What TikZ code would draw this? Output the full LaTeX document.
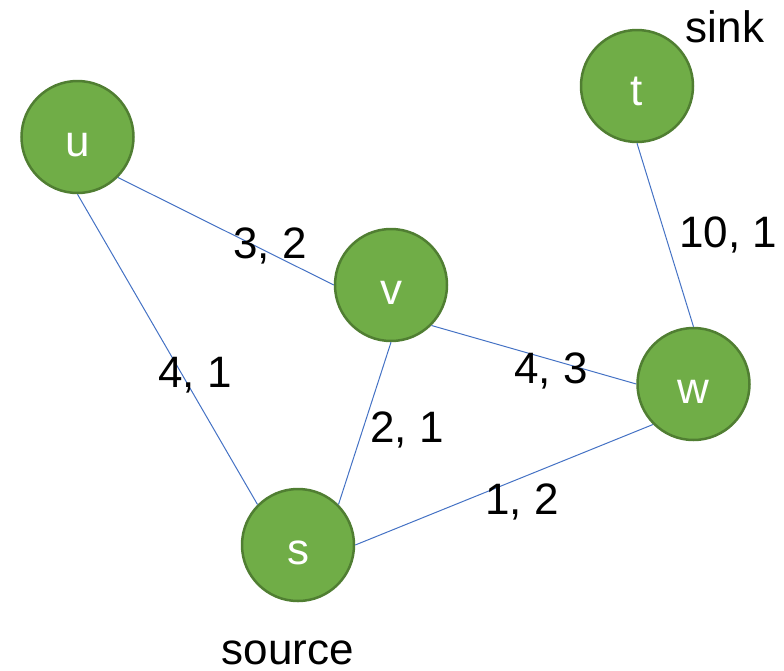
\documentclass[tikz,border=0pt]{standalone}
\usepackage{fontspec}
\setmainfont{Liberation Sans}
\usetikzlibrary{calc,positioning}

\definecolor{vfill}{HTML}{70AD47}
\definecolor{vline}{HTML}{507E32}
\definecolor{eline}{HTML}{4472C4}

\begin{document}
\begin{tikzpicture}[x=1pt,y=-1pt,
vertex/.style={circle, draw=vline, fill=vfill, line width=2.5pt, minimum size=112pt, inner sep=0pt, text height=39pt, text depth=0pt, text=white, font=\fontsize{44}{50}\selectfont},
edge/.style={draw=eline, line width=1pt},
weight/.style={draw=none, fill=none, inner sep=0pt, anchor=base, font=\fontsize{44}{50}\selectfont},
info/.style={draw=none, fill=none, inner sep=0pt, anchor=base, font=\fontsize{44}{50}\selectfont}]

%% picture size
\useasboundingbox (0,0) rectangle (784,670);

%% place all vertices
\node[vertex] (u) at (77.5,137) {u};
\node[vertex] (v) at (391,285) {v};
\node[vertex] (t) at (637,86) {t};
\node[vertex] (w) at (693.5,384) {w};
\node[vertex] (s) at (298,545) {s};

%% place other information
\node[info] (sink) at (725,42) {sink};
\node[info] (source) at (288,664) {source};

%% place all edges
\foreach \a/\b in {u.south east/v.west, u.south/s.north west, v.south/s.north east,
                   v.south east/w.west, s.east/w.south west, t.south/w.north}
      \draw[edge] (\a) -- (\b);

%% place all weights
\node[weight] (W-uv) at (270,258) {3, 2};
\node[weight] (W-us) at (195,387) {4, 1};
\node[weight] (W-vs) at (407,442) {2, 1};
\node[weight] (W-vw) at (551,383) {4, 3};
\node[weight] (W-sw) at (522,514) {1, 2};
\node[weight] (W-tw) at (728,247) {10, 1};

\end{tikzpicture}
\end{document}
